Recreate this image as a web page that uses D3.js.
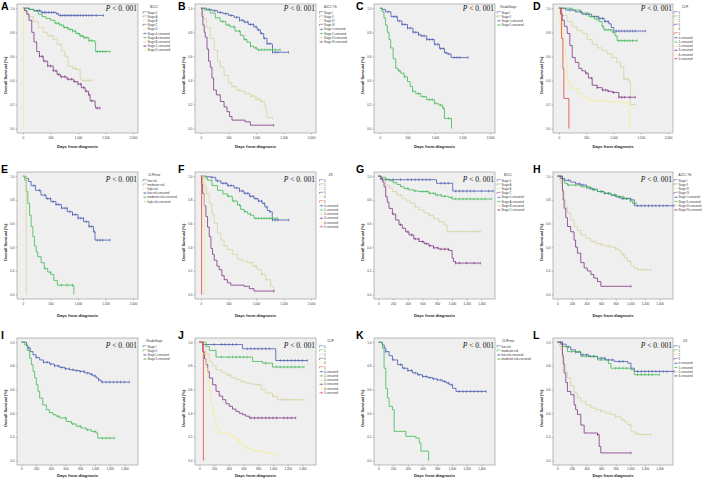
<!DOCTYPE html>
<html>
<head>
<meta charset="utf-8">
<script src="https://cdn.jsdelivr.net/npm/d3@7"></script>
<style>
  body { margin: 0; background: #fff; }
  svg { display: block; }
</style>
</head>
<body>
<div id="vis"></div>
<script>
// axis ticks
const ticksLong = [0, 500, 1000, 1500, 2000];
const ticksShort = [0, 200, 400, 600, 800, 1000, 1200, 1400];
const survTicks = [0, 0.2, 0.4, 0.6, 0.8, 1.0];

// group labels used in the legends
const bclc5 = ["Stage 0", "Stage A", "Stage B", "Stage C", "Stage D"];
const bclc4 = ["Stage 0", "Stage A", "Stage B", "Stage C"];
const ajcc = ["Stage I", "Stage II", "Stage III", "Stage IV"];
const okuda = ["Stage I", "Stage II"];
const clip = ["0", "1", "2", "3", "4", "5"];
const clipnew3 = ["low risk", "moderate risk", "high risk"];
const clipnew2 = ["low risk", "moderate risk"];
const jis6 = ["0", "1", "2", "3", "4", "5"];
const jis4 = ["0", "1", "2", "3"];

// survival curves: [day, survival] step points, censor days
// A - BCLC
const A_s0 = [[0,1],[120,.99],[200,.98],[330,.965],[600,.955],[650,.94],[1460,.94]];
const A_sA = [[0,1],[100,.99],[200,.975],[280,.95],[350,.93],[420,.915],[500,.9],[580,.875],[660,.86],[740,.84],[820,.825],[900,.81],[960,.79],[1030,.77],[1100,.755],[1200,.73],[1310,.71],[1320,.64],[1580,.64]];
const A_sB = [[0,1],[40,.97],[100,.93],[190,.89],[280,.84],[370,.8],[450,.77],[550,.74],[620,.7],[700,.645],[760,.6],[820,.52],[900,.5],[980,.49],[1040,.42],[1060,.4],[1250,.4]];
const A_sC = [[0,1],[30,.98],[70,.95],[110,.9],[160,.8],[200,.72],[250,.64],[300,.6],[370,.56],[450,.52],[550,.48],[620,.45],[680,.43],[800,.41],[920,.39],[1000,.37],[1060,.34],[1130,.31],[1190,.28],[1220,.23],[1310,.19],[1320,.17],[1400,.17]];
const A_sD = [[0,1],[10,0]];
const cA_s0 = [260,300,350,390,420,470,520,560,620,680,720,760,800,840,880,920,960,1000,1050,1100,1150,1200,1260,1330,1460];
const cA_sA = [600,650,700,750,800,850,900,950,1000,1050,1080,1120,1160,1200,1250,1350,1400,1450,1500,1580];
const cA_sB = [500,680,780,950,1100,1150,1200,1250];
const cA_sC = [300,350,400,450,500,550,600,650,700,760,820,880,940,1000,1050,1100,1150,1200,1250,1350,1400];

// B - AJCC 7th
const B_s1 = [[0,1],[100,.99],[200,.98],[300,.965],[400,.955],[500,.94],[600,.925],[700,.9],[780,.885],[860,.865],[960,.845],[1020,.82],[1080,.79],[1140,.75],[1200,.705],[1290,.7],[1300,.634],[1590,.634]];
const B_s2 = [[0,1],[60,.985],[170,.96],[260,.92],[350,.89],[450,.86],[530,.845],[620,.81],[715,.775],[780,.74],[836,.718],[900,.685],[960,.67],[1020,.654],[1440,.654]];
const B_s3 = [[0,1],[30,.95],[50,.915],[100,.84],[170,.75],[240,.65],[300,.56],[350,.51],[420,.44],[500,.38],[560,.35],[640,.32],[720,.31],[800,.29],[900,.27],[1000,.245],[1080,.225],[1150,.19],[1180,.15],[1200,.09],[1300,.085]];
const B_s4 = [[0,1],[20,.93],[36,.86],[60,.8],[79,.76],[110,.66],[139,.56],[170,.51],[200,.42],[230,.32],[280,.28],[352,.225],[420,.18],[473,.14],[520,.1],[564,.07],[776,.07],[800,.056],[897,.028],[1320,.028]];
const cB_s1 = [150,250,350,450,550,650,700,750,800,850,900,950,1000,1050,1100,1150,1200,1250,1300,1350,1400,1590];
const cB_s2 = [400,500,600,700,800,900,1000,1050,1100,1150,1200,1250,1300,1350,1440];
const cB_s3 = [600,700,800,900,950,1000,1050,1100,1300];
const cB_s4 = [1320];

// C - Okuda
const C_s1 = [[0,1],[40,.99],[100,.97],[200,.93],[317,.894],[400,.865],[500,.835],[600,.8],[700,.78],[744,.77],[850,.74],[988,.7],[1080,.665],[1171,.63],[1220,.62],[1293,.59],[1600,.59]];
const C_s2 = [[0,1],[40,.97],[73,.92],[100,.86],[134,.8],[165,.74],[195,.67],[240,.58],[287,.5],[330,.48],[378,.46],[440,.43],[500,.39],[550,.35],[591,.31],[650,.29],[744,.265],[850,.24],[988,.21],[1060,.195],[1140,.17],[1171,.084],[1293,.084],[1300,0]];
const cC_s1 = [150,250,300,350,400,450,500,550,600,650,700,750,800,850,900,950,1000,1050,1100,1150,1200,1250,1350,1400,1450,1600];
const cC_s2 = [350,450,600,700,800,900,950,1000,1100,1150,1250];

// D - CLIP
const D_s0 = [[0,1],[122,.985],[300,.97],[427,.95],[600,.93],[732,.915],[830,.89],[915,.87],[960,.84],[1006,.81],[1585,.81]];
const D_s1 = [[0,1],[244,.985],[400,.96],[549,.93],[650,.91],[732,.89],[790,.85],[823,.82],[976,.8],[1030,.77],[1067,.73],[1433,.73]];
const D_s2 = [[0,1],[30,.97],[61,.94],[150,.89],[244,.845],[330,.815],[427,.79],[520,.74],[610,.7],[700,.67],[793,.65],[880,.62],[976,.59],[1060,.55],[1128,.51],[1189,.41],[1280,.39],[1311,.2],[1400,.2]];
const D_s3 = [[0,1],[30,.95],[61,.9],[100,.85],[152,.79],[200,.69],[244,.59],[300,.55],[366,.5],[420,.48],[488,.46],[540,.42],[610,.36],[700,.34],[793,.32],[900,.31],[976,.3],[1098,.26],[1400,.26]];
const D_s4 = [[0,1],[15,.9],[30,.79],[80,.68],[122,.56],[152,.4],[200,.36],[244,.33],[340,.29],[427,.26],[549,.23],[900,.22],[1280,.22],[1300,0]];
const D_s5 = [[0,1],[49,.75],[73,.5],[91,.25],[183,0]];
const cD_s0 = [200,400,500,550,650,700,750,800,850,900,1050,1100,1150,1200,1250,1300,1350,1400,1585];
const cD_s1 = [600,700,800,850,900,950,1000,1100,1150,1200,1250,1300,1350,1433];
const cD_s2 = [1200,1250,1400];
const cD_s3 = [500,600,700,800,850,900,1000,1100,1150,1200,1300,1400];

// E - CLIPnew
const E_s0 = [[0,1],[30,.995],[60,.98],[100,.955],[149,.92],[230,.88],[327,.84],[420,.81],[506,.785],[600,.76],[700,.73],[804,.7],[900,.675],[1000,.645],[1101,.616],[1200,.575],[1280,.53],[1310,.46],[1580,.46]];
const E_s1 = [[0,1],[30,.966],[60,.87],[89,.77],[120,.67],[149,.575],[180,.49],[208,.41],[240,.36],[268,.32],[330,.27],[387,.22],[450,.19],[506,.17],[560,.12],[625,.08],[920,.08],[925,0]];
const E_s2 = [[0,1],[60,0]];
const cE_s0 = [200,300,400,450,500,550,600,650,700,750,800,850,900,950,1000,1050,1100,1150,1200,1250,1300,1350,1400,1450,1580];
const cE_s1 = [400,500,700,800,900];

// F - JIS
const F_s0 = [[0,1],[100,.995],[180,.99],[270,.96],[361,.94],[480,.92],[602,.9],[700,.875],[783,.855],[880,.83],[964,.81],[1040,.79],[1114,.77],[1160,.74],[1205,.71],[1250,.7],[1295,.63],[1596,.63]];
const F_s1 = [[0,1],[60,.985],[120,.966],[200,.92],[301,.88],[400,.85],[482,.83],[570,.79],[663,.756],[720,.72],[783,.7],[850,.68],[904,.67],[964,.644],[1386,.644]];
const F_s2 = [[0,1],[30,.95],[60,.91],[100,.85],[151,.77],[200,.68],[241,.6],[300,.52],[361,.46],[420,.41],[482,.38],[570,.34],[663,.3],[750,.285],[843,.27],[940,.24],[1024,.21],[1100,.17],[1175,.126],[1265,.07],[1325,.02]];
const F_s3 = [[0,1],[15,.93],[30,.855],[60,.75],[90,.66],[120,.57],[151,.49],[181,.39],[210,.34],[241,.29],[290,.24],[331,.21],[380,.16],[422,.126],[480,.1],[542,.08],[783,.07],[880,.05],[964,.03],[1325,.03]];
const F_s4 = [[0,1],[60,0]];
const F_s5 = [[0,1],[12,0]];
const cF_s0 = [200,300,400,450,500,550,650,700,750,800,850,900,950,1000,1050,1100,1150,1200,1250,1300,1350,1400,1596];
const cF_s1 = [500,600,700,800,900,1000,1050,1100,1150,1200,1250,1300,1386];
const cF_s2 = [900,1000,1100,1200];
const cF_s3 = [1325];

// G - BCLC (second cohort)
const G_s0 = [[0,1],[32,.97],[776,.97],[790,.94],[1002,.94],[1010,.874],[1560,.874]];
const G_s1 = [[0,1],[40,.99],[99,.975],[150,.96],[200,.945],[250,.93],[300,.91],[350,.895],[415,.884],[480,.875],[551,.87],[686,.855],[777,.84],[860,.83],[957,.82],[1002,.807],[1535,.807]];
const G_s2 = [[0,1],[30,.98],[54,.966],[99,.925],[150,.9],[190,.87],[250,.84],[325,.81],[380,.79],[438,.77],[500,.74],[551,.715],[620,.69],[686,.67],[750,.64],[821,.616],[889,.588],[934,.532],[1386,.532]];
const G_s3 = [[0,1],[32,.98],[60,.95],[77,.91],[99,.826],[120,.78],[144,.728],[190,.68],[235,.63],[280,.59],[325,.56],[370,.53],[415,.504],[480,.47],[551,.448],[620,.43],[686,.412],[750,.395],[821,.384],[957,.373],[1002,.308],[1020,.28],[1047,.266],[1386,.266]];
const cG_s0 = [100,200,300,400,450,500,550,600,650,700,850,900,950,1050,1100,1150,1200,1250,1300,1400,1500,1560];
const cG_s1 = [400,500,600,650,700,750,800,850,900,1000,1050,1100,1150,1200,1250,1300,1350,1400,1450,1535];
const cG_s2 = [300,500,700,1000,1100,1200,1300,1386];
const cG_s3 = [200,300,400,450,500,550,600,650,700,750,800,850,900,950,1050,1100,1200,1300,1386];

// H - AJCC 7th
const H_s1 = [[0,1],[46,.98],[100,.965],[183,.95],[250,.935],[321,.925],[400,.9],[480,.885],[550,.87],[640,.855],[734,.84],[800,.825],[872,.81],[1009,.8],[1055,.75],[1596,.75]];
const H_s2 = [[0,1],[69,.966],[100,.94],[138,.925],[321,.91],[450,.89],[550,.87],[640,.855],[734,.84],[820,.825],[917,.81],[1000,.79],[1032,.77],[1080,.77]];
const H_s3 = [[0,1],[30,.97],[46,.94],[70,.87],[92,.8],[115,.74],[138,.69],[183,.63],[229,.575],[275,.54],[321,.505],[390,.475],[459,.45],[530,.43],[596,.42],[660,.41],[734,.4],[800,.385],[849,.365],[880,.34],[917,.31],[960,.28],[1009,.24],[1060,.22],[1101,.21],[1284,.21]];
const H_s4 = [[0,1],[69,.88],[80,.8],[92,.73],[115,.65],[138,.575],[183,.53],[229,.46],[250,.4],[275,.35],[321,.27],[367,.225],[410,.2],[459,.17],[500,.14],[550,.11],[596,.07],[1009,.07]];
const cH_s1 = [150,300,350,450,500,600,650,700,780,850,900,950,1000,1100,1150,1200,1250,1300,1350,1400,1450,1500,1596];
const cH_s2 = [150,250,400,500,600,700,800,850,900,950,1000,1080];
const cH_s3 = [500,600,700,800,900,1000,1100,1150,1200,1284];
const cH_s4 = [1009];

// I - Okuda
const I_s1 = [[0,1],[45,1],[70,.97],[90,.95],[120,.92],[158,.893],[200,.87],[248,.85],[300,.83],[384,.815],[450,.8],[519,.787],[590,.775],[655,.767],[720,.76],[790,.753],[860,.74],[926,.73],[970,.715],[1016,.697],[1050,.68],[1084,.663],[1467,.663]];
const I_s2 = [[0,1],[45,.977],[80,.93],[113,.865],[135,.81],[158,.753],[180,.7],[203,.64],[225,.585],[248,.528],[290,.47],[339,.43],[380,.405],[429,.388],[470,.375],[519,.36],[610,.33],[680,.31],[745,.29],[810,.275],[881,.26],[950,.245],[1016,.233],[1038,.19],[1264,.19]];
const cI_s1 = [100,200,300,350,400,450,500,550,600,650,700,750,800,850,900,950,1000,1050,1100,1150,1200,1250,1300,1350,1400,1467];
const cI_s2 = [500,600,700,800,900,1000,1100,1150,1200,1264];

// J - CLIP
const J_s0 = [[0,1],[45,.98],[587,.944],[1038,.845],[1467,.845]];
const J_s1 = [[0,1],[90,.964],[135,.93],[226,.874],[722,.837],[858,.823],[993,.79],[1422,.79]];
const J_s2 = [[0,1],[45,.972],[90,.9],[135,.837],[180,.8],[226,.767],[300,.745],[361,.725],[430,.7],[497,.683],[560,.665],[632,.655],[700,.645],[767,.64],[840,.6],[903,.57],[993,.542],[1061,.514],[1422,.514]];
const J_s3 = [[0,1],[45,.92],[70,.86],[90,.81],[113,.75],[135,.697],[180,.64],[226,.585],[270,.545],[316,.514],[360,.48],[406,.458],[450,.435],[497,.416],[540,.4],[587,.388],[630,.375],[677,.36],[1309,.36]];
const J_s4 = [[0,1],[60,.9],[90,.78],[113,.68],[135,.585],[158,.48],[181,.39],[203,.32],[226,.275],[271,.233],[406,.22],[450,.2],[497,.177],[540,.15],[587,.12],[650,.1],[722,.08],[858,.065],[1038,.03]];
const J_s5 = [[0,1],[54,0]];
const cJ_s0 = [200,300,350,400,450,500,650,700,750,800,850,900,950,1100,1150,1200,1250,1300,1350,1400,1467];
const cJ_s1 = [300,400,450,500,550,600,650,900,1050,1100,1150,1200,1250,1300,1350,1422];
const cJ_s2 = [400,600,800,1000,1100,1150,1200,1250,1300,1350,1422];
const cJ_s3 = [700,750,800,850,900,950,1000,1050,1150,1200,1250,1309];

// K - CLIPnew
const K_s0 = [[0,1],[32,.995],[55,.977],[80,.95],[100,.92],[145,.885],[191,.85],[260,.81],[327,.78],[400,.76],[464,.74],[530,.725],[600,.71],[670,.7],[736,.69],[800,.68],[873,.668],[920,.655],[964,.64],[1009,.61],[1055,.584],[1464,.584]];
const K_s1 = [[0,1],[55,.95],[77,.78],[100,.61],[123,.528],[145,.458],[191,.43],[214,.247],[373,.205],[509,.19],[555,.15],[578,.08],[682,0]];
const cK_s0 = [100,200,300,350,400,450,500,550,600,650,700,750,800,850,900,950,1000,1100,1150,1200,1250,1300,1350,1400,1464];

// L - JIS
const L_s0 = [[0,1],[46,.983],[120,.96],[183,.935],[250,.915],[321,.893],[430,.88],[550,.865],[660,.85],[780,.837],[963,.823],[1009,.78],[1055,.753],[1600,.753]];
const L_s1 = [[0,1],[69,.963],[138,.92],[321,.88],[550,.85],[700,.82],[734,.78],[1009,.767],[1055,.725],[1399,.725]];
const L_s2 = [[0,1],[30,.97],[46,.935],[70,.87],[92,.81],[115,.75],[138,.697],[183,.63],[229,.57],[275,.53],[321,.5],[390,.47],[459,.444],[530,.43],[596,.416],[660,.4],[734,.39],[800,.37],[872,.345],[920,.325],[963,.303],[1009,.247],[1060,.23],[1101,.22],[1284,.22]];
const L_s3 = [[0,1],[69,.893],[80,.82],[92,.74],[115,.66],[138,.584],[183,.556],[229,.47],[250,.43],[275,.39],[321,.3],[367,.233],[550,.22],[573,.12],[596,.065],[1009,.065]];
const cL_s0 = [150,250,350,400,450,500,600,650,700,750,850,900,1100,1150,1200,1250,1300,1350,1400,1450,1500,1600];
const cL_s1 = [200,300,400,500,600,800,850,900,950,1100,1150,1200,1250,1300,1399];
const cL_s2 = [600,800,900,1000,1100,1150,1200,1284];
const cL_s3 = [550,1009];

const colors = ["#3d51a9", "#34b54a", "#d5d09a", "#782a7c", "#f3ec8a", "#e03a3a"];

const panels = [
  {id: "A", col: 0, row: 0, title: "BCLC", groups: bclc5, curves: [A_s0, A_sA, A_sB, A_sC, A_sD], cens: [cA_s0, cA_sA, cA_sB, cA_sC, []], long: true},
  {id: "B", col: 1, row: 0, title: "AJCC 7th", groups: ajcc, curves: [B_s1, B_s2, B_s3, B_s4], cens: [cB_s1, cB_s2, cB_s3, cB_s4], long: true},
  {id: "C", col: 2, row: 0, title: "OkudaStage", groups: okuda, curves: [C_s1, C_s2], cens: [cC_s1, cC_s2], long: true},
  {id: "D", col: 3, row: 0, title: "CLIP", groups: clip, curves: [D_s0, D_s1, D_s2, D_s3, D_s4, D_s5], cens: [cD_s0, cD_s1, cD_s2, cD_s3, [], []], long: true},
  {id: "E", col: 0, row: 1, title: "CLIPnew", groups: clipnew3, curves: [E_s0, E_s1, E_s2], cens: [cE_s0, cE_s1, []], long: true},
  {id: "F", col: 1, row: 1, title: "JIS", groups: jis6, curves: [F_s0, F_s1, F_s2, F_s3, F_s4, F_s5], cens: [cF_s0, cF_s1, cF_s2, cF_s3, [], []], long: true},
  {id: "G", col: 2, row: 1, title: "BCLC", groups: bclc4, curves: [G_s0, G_s1, G_s2, G_s3], cens: [cG_s0, cG_s1, cG_s2, cG_s3], long: false},
  {id: "H", col: 3, row: 1, title: "AJCC 7th", groups: ajcc, curves: [H_s1, H_s2, H_s3, H_s4], cens: [cH_s1, cH_s2, cH_s3, cH_s4], long: false},
  {id: "I", col: 0, row: 2, title: "OkudaStage", groups: okuda, curves: [I_s1, I_s2], cens: [cI_s1, cI_s2], long: false},
  {id: "J", col: 1, row: 2, title: "CLIP", groups: clip, curves: [J_s0, J_s1, J_s2, J_s3, J_s4, J_s5], cens: [cJ_s0, cJ_s1, cJ_s2, cJ_s3, [], []], long: false},
  {id: "K", col: 2, row: 2, title: "CLIPnew", groups: clipnew2, curves: [K_s0, K_s1], cens: [cK_s0, []], long: false},
  {id: "L", col: 3, row: 2, title: "JIS", groups: jis4, curves: [L_s0, L_s1, L_s2, L_s3], cens: [cL_s0, cL_s1, cL_s2, cL_s3], long: false}
];

// layout of the grid
var cols = [{x0: 17, x1: 138}, {x0: 195, x1: 316}, {x0: 374, x1: 495}, {x0: 553, x1: 673}];
var rows = [{y0: 4, y1: 133}, {y0: 172, y1: 299}, {y0: 338, y1: 465}];
var letterX = [1, 178, 356, 533];
var letterY = [9.5, 173, 339];
var legendOff = [5, 3.5, 2, 1];
var pOff = [7, 10, 10];
var tickOff = [6, 5.5, 5];
var xTitleOff = [15, 17.5, 11.5];

var svg = d3.select("#vis").append("svg")
  .attr("width", 709)
  .attr("height", 482)
  .style("font-family", "'Liberation Sans', Arial, sans-serif");

function survAt(pts, t) {
  var s = pts[0][1];
  pts.forEach(function (p) { if (p[0] <= t) s = p[1]; });
  return s;
}

panels.forEach(function (p) {
  var c = cols[p.col], r = rows[p.row];
  var x = d3.scaleLinear()
    .domain(p.long ? [-108, 2090] : [-60, 1585])
    .range([c.x0, c.x1]);
  var y = d3.scaleLinear()
    .domain([-0.037, 1.035])
    .range([r.y1, r.y0]);
  var g = svg.append("g");

  // plot box
  g.append("rect")
    .attr("x", c.x0).attr("y", r.y0)
    .attr("width", c.x1 - c.x0).attr("height", r.y1 - r.y0)
    .attr("fill", "#efefef")
    .attr("stroke", "#8f8f8f")
    .attr("stroke-width", 0.6);

  // axes
  var ya = g.append("g")
    .attr("transform", "translate(" + c.x0 + ",0)")
    .call(d3.axisLeft(y).tickValues(survTicks).tickFormat(d3.format(".1f")).tickSize(1.5).tickPadding(1));
  var xa = g.append("g")
    .attr("transform", "translate(0," + r.y1 + ")")
    .call(d3.axisBottom(x).tickValues(p.long ? ticksLong : ticksShort).tickSize(1.5).tickPadding(1));
  [ya, xa].forEach(function (a) {
    a.select(".domain").remove();
    a.attr("font-size", 3).attr("font-family", null);
    a.selectAll("line").attr("stroke", "#666").attr("stroke-width", 0.4);
    a.selectAll("text").attr("fill", "#333");
  });
  xa.selectAll("text").attr("dy", null).attr("y", tickOff[p.row]);

  // axis titles
  g.append("text")
    .attr("x", (c.x0 + c.x1) / 2)
    .attr("y", r.y1 + xTitleOff[p.row])
    .attr("text-anchor", "middle")
    .attr("font-size", 4.2)
    .attr("font-weight", "bold")
    .attr("fill", "#222")
    .text("Days from diagnosis");
  g.append("text")
    .attr("transform", "translate(" + (c.x0 - 10.5) + "," + ((r.y0 + r.y1) / 2 + 7) + ") rotate(-90)")
    .attr("text-anchor", "middle")
    .attr("font-size", 4)
    .attr("font-weight", "bold")
    .attr("fill", "#222")
    .text("Overall Survival (%)");

  // curves and censor marks
  var line = d3.line()
    .x(function (d) { return x(d[0]); })
    .y(function (d) { return y(d[1]); })
    .curve(d3.curveStepAfter);
  p.curves.forEach(function (pts, i) {
    g.append("path")
      .attr("d", line(pts))
      .attr("fill", "none")
      .attr("stroke", colors[i])
      .attr("stroke-width", 0.75);
    g.selectAll(null)
      .data(p.cens[i])
      .enter()
      .append("line")
        .attr("x1", function (t) { return x(t); })
        .attr("x2", function (t) { return x(t); })
        .attr("y1", function (t) { return y(survAt(pts, t)) - 1.3; })
        .attr("y2", function (t) { return y(survAt(pts, t)) + 1.3; })
        .attr("stroke", colors[i])
        .attr("stroke-width", 0.6);
  });

  // P value
  var pt = g.append("text")
    .attr("x", c.x1 - 1)
    .attr("y", r.y0 + pOff[p.row])
    .attr("text-anchor", "end")
    .attr("font-family", "'Liberation Serif', 'DejaVu Serif', serif")
    .attr("font-size", 7.5)
    .attr("fill", "#111");
  pt.append("tspan").attr("font-style", "italic").text("P");
  pt.append("tspan").text(" < 0. 001");

  // legend
  var lx = c.x1 + legendOff[p.col];
  g.append("text")
    .attr("x", lx + 11)
    .attr("y", r.y0 + 3.5)
    .attr("text-anchor", "middle")
    .attr("font-size", 3)
    .attr("fill", "#333")
    .text(p.title);
  var n = p.groups.length;
  var items = p.groups.concat(p.groups.map(function (s) { return s + "-censored"; }));
  items.forEach(function (s, k) {
    var yy = r.y0 + 8.5 + k * 4.2;
    var col = colors[k % n];
    if (k < n) {
      g.append("path")
        .attr("d", "M" + lx + "," + (yy + 1) + "V" + (yy - 0.8) + "H" + (lx + 3.8))
        .attr("fill", "none")
        .attr("stroke", col)
        .attr("stroke-width", 0.5);
    } else {
      g.append("path")
        .attr("d", "M" + lx + "," + yy + "H" + (lx + 3.8) + "M" + (lx + 1.9) + "," + (yy - 1) + "V" + (yy + 1))
        .attr("fill", "none")
        .attr("stroke", col)
        .attr("stroke-width", 0.5);
    }
    g.append("text")
      .attr("x", lx + 4.5)
      .attr("y", yy + 1)
      .attr("font-size", 2.8)
      .attr("fill", "#333")
      .text(s);
  });

  // panel letter
  svg.append("text")
    .attr("x", letterX[p.col])
    .attr("y", letterY[p.row])
    .attr("font-size", 10.5)
    .attr("font-weight", "bold")
    .attr("fill", "#000")
    .text(p.id);
});
</script>
</body>
</html>
